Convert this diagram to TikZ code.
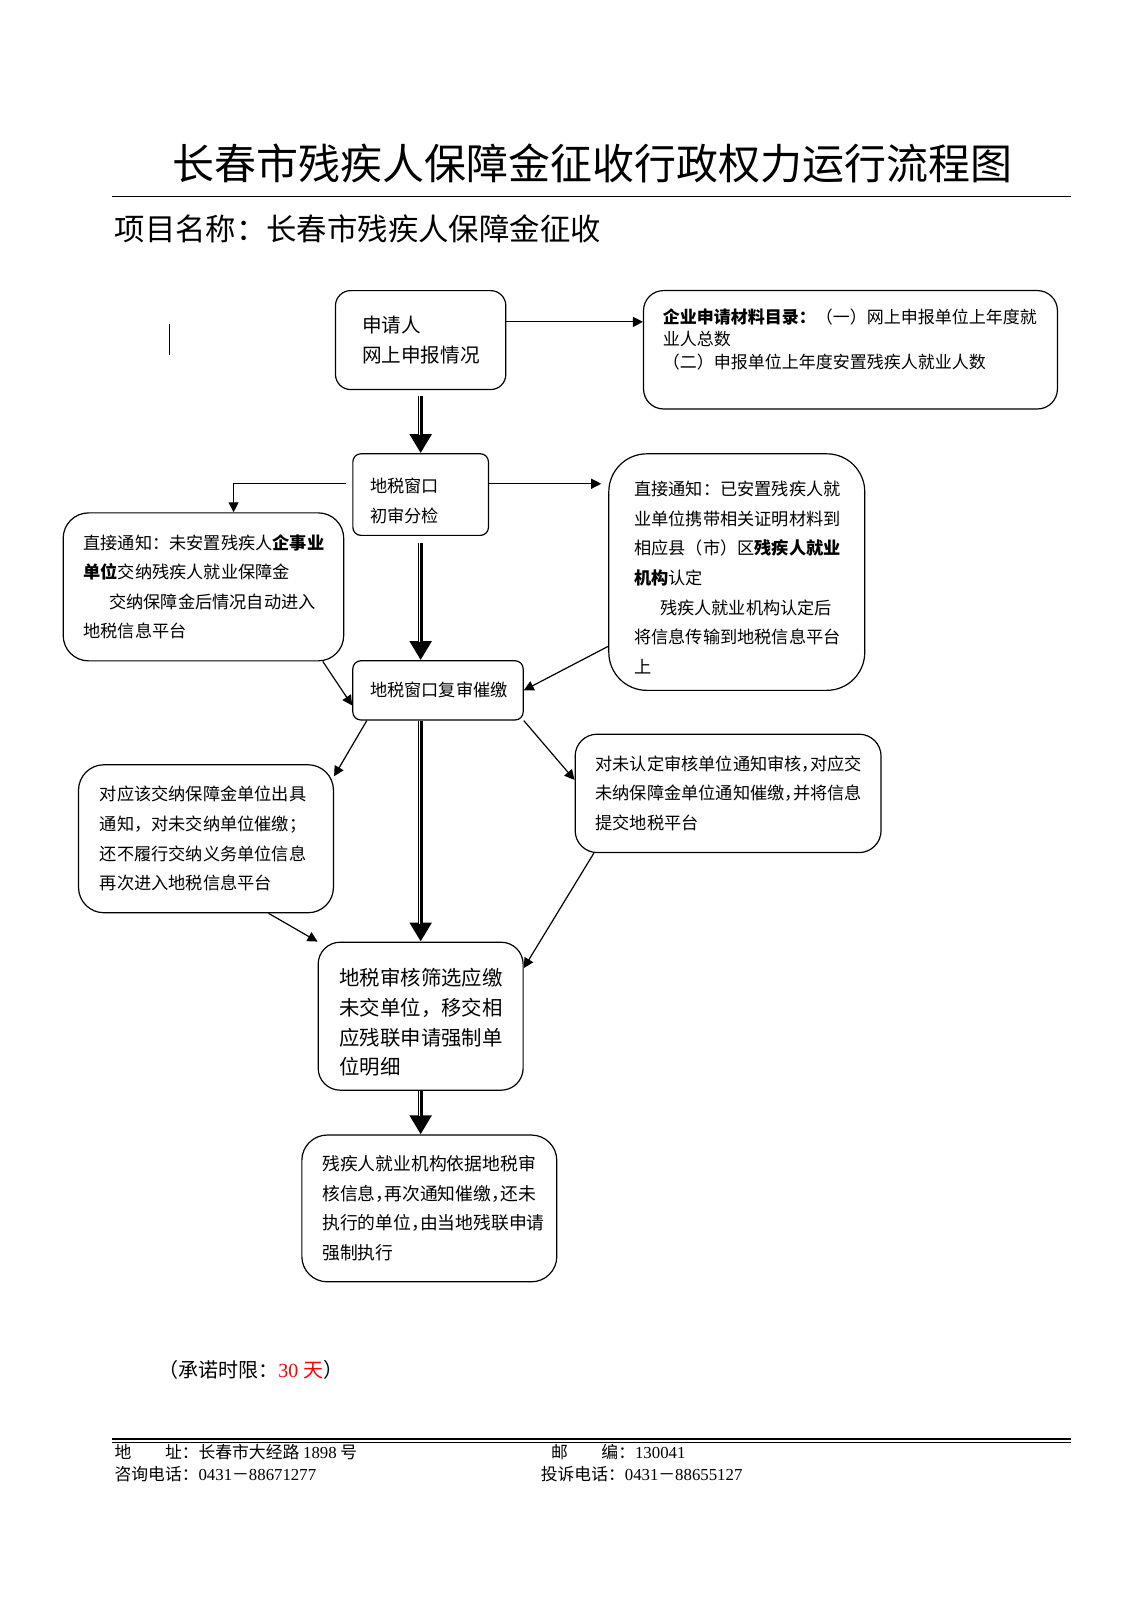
\documentclass[tikz,border=0pt]{standalone}
\usepackage{fontspec}
\setmainfont{Liberation Serif}
\newfontfamily\cjk{Noto Sans CJK SC}
\usetikzlibrary{arrows.meta}
\newcommand{\hc}{\makebox[0.5em][l]{，}}
\newcommand{\lift}[1]{\rule{0pt}{#1}}

\begin{document}
\begin{tikzpicture}[x=0.51pt,y=-0.51pt,
		box/.style={draw,line width=0.6pt,align=left,inner ysep=0pt,font=\cjk\fontsize{8.6pt}{14.8pt}\selectfont},
		flow/.style={line width=0.6pt,-{Triangle[length=5pt,width=5pt]}},
		mainflow/.style={line width=2.6pt,-{Triangle[length=9.5pt,width=10.5pt]},
			postaction={draw=white,line width=0.5pt,-,shorten >=9pt,transform canvas={xshift=-0.55pt}}}]
			\useasboundingbox (0,0) rectangle (1109,1569);

			\node[font=\cjk\fontsize{21pt}{21pt}\selectfont] (title) at (581,160) {长春市残疾人保障金征收行政权力运行流程图};
			\draw[line width=0.65pt] (110,193) -- (1050,193);
			\node[anchor=west,inner sep=0pt,font=\cjk\fontsize{15.2pt}{15.2pt}\selectfont] (project) at (112,224) {项目名称：长春市残疾人保障金征收};
			\draw[line width=0.6pt] (166,318) -- (166,348);

			\node[box,rounded corners=7.6pt,text width=58.6pt,inner xsep=13.3pt,minimum height=49.5pt,font=\cjk\fontsize{9.8pt}{14.8pt}\selectfont] (apply) at (412.5,333.5) {申请人\\网上申报情况};
			\node[box,rounded corners=10pt,text width=187.6pt,inner xsep=9.7pt,minimum height=59.2pt,font=\cjk\fontsize{8.5pt}{11.2pt}\selectfont] (list) at (834,343) {\textbf{企业申请材料目录：}（一）网上申报单位上年度就\\业人总数\\（二）申报单位上年度安置残疾人就业人数\\\mbox{}};
			\node[box,rounded corners=4pt,text width=50.4pt,inner xsep=8.7pt,minimum height=40.8pt] (first) at (412.5,485) {\lift{13.6pt}地税窗口\\初审分检};
			\node[box,rounded corners=12.7pt,text width=119.9pt,inner xsep=10.2pt,minimum height=74pt] (unplaced) at (199.5,575.5) {直接通知：未安置残疾人\textbf{企事业}\\\textbf{单位}交纳残疾人就业保障金\\\hspace*{1.5em}交纳保障金后情况自动进入\\地税信息平台};
			\node[box,rounded corners=19pt,text width=102.5pt,inner xsep=12.75pt,minimum height=118.3pt] (placed) at (722.5,561) {\lift{12.6pt}直接通知：已安置残疾人就\\业单位携带相关证明材料到\\相应县（市）区\textbf{残疾人就业}\\\textbf{机构}认定\\\hspace*{1.5em}残疾人就业机构认定后\\将信息传输到地税信息平台\\上};
			\node[box,rounded corners=4pt,text width=67.8pt,inner xsep=8.7pt,minimum height=29.6pt] (review) at (429.5,677) {地税窗口复审催缴};
			\node[box,rounded corners=12.7pt,text width=106.1pt,inner xsep=10.7pt,minimum height=74pt] (notice) at (202,822.5) {对应该交纳保障金单位出具\\通知，对未交纳单位催缴；\\还不履行交纳义务单位信息\\再次进入地税信息平台};
			\node[box,rounded corners=11pt,text width=132.6pt,inner xsep=10.2pt,minimum height=59.2pt] (check) at (714,778) {对未认定审核单位通知审核\hc 对应交\\未纳保障金单位通知催缴\hc 并将信息\\提交地税平台};
			\node[box,rounded corners=11pt,text width=81.1pt,inner xsep=10.7pt,minimum height=74pt,font=\cjk\fontsize{10.2pt}{14.8pt}\selectfont] (screen) at (412.5,996.5) {\lift{15pt}地税审核筛选应缴\\未交单位，移交相\\应残联申请强制单\\位明细};
			\node[box,rounded corners=12.7pt,text width=107.1pt,inner xsep=10.2pt,minimum height=73.4pt,font=\cjk\fontsize{8.9pt}{14.8pt}\selectfont] (enforce) at (421,1185) {残疾人就业机构依据地税审\\核信息\hc 再次通知催缴\hc 还未\\执行的单位\hc 由当地残联申请\\强制执行};

			\draw[flow] (apply.12) -- (apply.12 -| list.west);
			\draw[mainflow,shorten <=3pt] (apply.south) -- (first.north);
			\draw[flow,shorten <=3pt] (first.171) -| (unplaced.68);
			\draw[flow,shorten >=3.5pt] (first.9) -- (first.9 -| placed.west);
			\draw[mainflow,shorten <=3.5pt] (first.south) -- (first.south |- review.north);
			\draw[flow] (unplaced.-32) -- (review.190);
			\draw[flow] (placed.210) -- (review.east);
			\draw[flow] (review.203) -- (notice.26);
			\draw[flow] (review.south east) -- (check.175);
			\draw[mainflow] (review.south -| screen.north) -- (screen.north);
			\draw[flow] (notice.-50) -- (screen.north west);
			\draw[flow] (check.204) -- (screen.25);
			\draw[mainflow] (screen.south) -- (screen.south |- enforce.north);

			\node[anchor=west,inner sep=0pt,font=\cjk\fontsize{10pt}{10pt}\selectfont] (limit) at (155,1343) {（承诺时限：\textcolor{red}{\rmfamily 30 {\cjk 天}}）};

			\draw[line width=0.8pt] (110,1411) -- (1050,1411);
			\draw[line width=0.4pt] (110,1414.5) -- (1050,1414.5);
			\node[anchor=west,inner sep=0pt,font=\cjk\fontsize{8.4pt}{8.4pt}\selectfont] (addr) at (112,1424) {地　　址：长春市大经路 {\rmfamily 1898} 号};
			\node[anchor=west,inner sep=0pt,font=\cjk\fontsize{8.4pt}{8.4pt}\selectfont] (zip) at (540,1424) {邮　　编：{\rmfamily 130041}};
			\node[anchor=west,inner sep=0pt,font=\cjk\fontsize{8.4pt}{8.4pt}\selectfont] (ask) at (112,1446) {咨询电话：{\rmfamily 0431}－{\rmfamily 88671277}};
			\node[anchor=west,inner sep=0pt,font=\cjk\fontsize{8.4pt}{8.4pt}\selectfont] (complain) at (530,1446) {投诉电话：{\rmfamily 0431}－{\rmfamily 88655127}};
		\end{tikzpicture}
\end{document}
